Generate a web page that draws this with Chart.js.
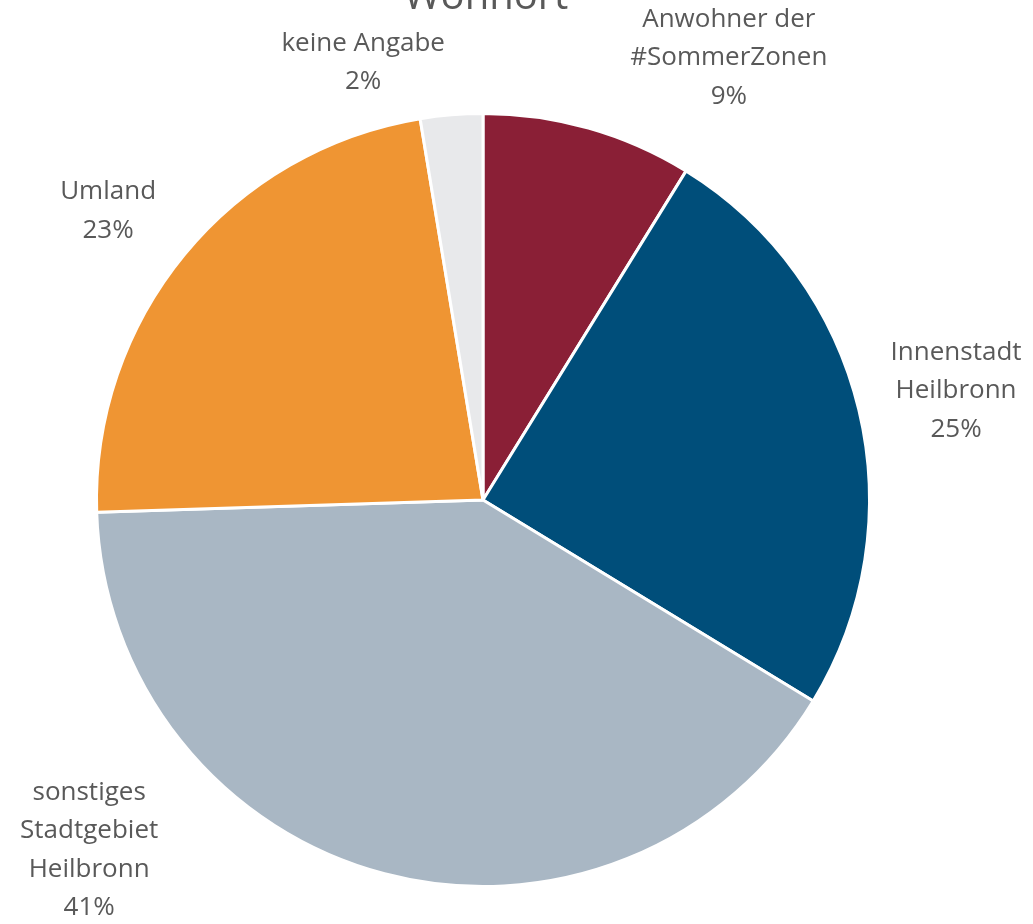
<!DOCTYPE html>
<html>
<head>
<meta charset="utf-8">
<script src="https://cdn.jsdelivr.net/npm/chart.js@4.4.1/dist/chart.umd.min.js"></script>
<style>
  html, body { margin: 0; padding: 0; background: #ffffff; }
  #wrap { width: 1033px; height: 924px; position: relative; }
</style>
</head>
<body>
<div id="wrap"><canvas id="c" width="1033" height="924"></canvas></div>
<script>
// ---- Data ----
const chartTitle = "Wohnort";
const categories = [
  ["Anwohner der", "#SommerZonen"],
  ["Innenstadt", "Heilbronn"],
  ["sonstiges", "Stadtgebiet", "Heilbronn"],
  ["Umland"],
  ["keine Angabe"]
];
const shares = [8.8, 24.9, 40.8, 22.9, 2.6];
const percentLabels = ["9%", "25%", "41%", "23%", "2%"];
const sliceColors = ["#8A1F36", "#004E7A", "#A9B7C4", "#EF9533", "#E8E9EB"];

// label block centres relative to pie centre, in units of the radius
const labelAnchors = [
  [0.636, -1.144],
  [1.224, -0.282],
  [-1.019, 0.906],
  [-0.970, -0.748],
  [-0.310, -1.132]
];

const FONT = "'Open Sans', 'Noto Sans', sans-serif";
const TEXT_COLOR = "#595959";

const outsideLabels = {
  id: 'outsideLabels',
  afterDatasetsDraw(chart) {
    const ctx = chart.ctx;
    const meta = chart.getDatasetMeta(0);
    ctx.save();
    ctx.fillStyle = TEXT_COLOR;
    ctx.textAlign = 'center';
    ctx.textBaseline = 'middle';
    ctx.font = "400 26px " + FONT;
    const lh = 38.4;
    meta.data.forEach((arc, i) => {
      const R = arc.outerRadius;
      const cx = arc.x + labelAnchors[i][0] * R;
      const cy = arc.y + labelAnchors[i][1] * R;
      const lines = categories[i].concat([percentLabels[i]]);
      const top = cy - (lines.length - 1) * lh / 2;
      lines.forEach((t, k) => ctx.fillText(t, cx, top + k * lh));
    });
    // title (partly cut at top edge)
    ctx.font = "400 40px " + FONT;
    ctx.textBaseline = 'alphabetic';
    ctx.fillText(chartTitle, meta.data[0].x + 3, 9);
    ctx.restore();
  }
};

new Chart(document.getElementById('c'), {
  type: 'pie',
  data: {
    labels: categories.map(l => l.join(' ')),
    datasets: [{
      data: shares,
      backgroundColor: sliceColors,
      borderColor: '#ffffff',
      borderWidth: 3
    }]
  },
  options: {
    responsive: false,
    animation: false,
    layout: { padding: { left: 95, right: 162, top: 112, bottom: 36 } },
    plugins: {
      legend: { display: false },
      title: { display: false },
      tooltip: { enabled: false }
    }
  },
  plugins: [outsideLabels]
});
</script>
</body>
</html>
